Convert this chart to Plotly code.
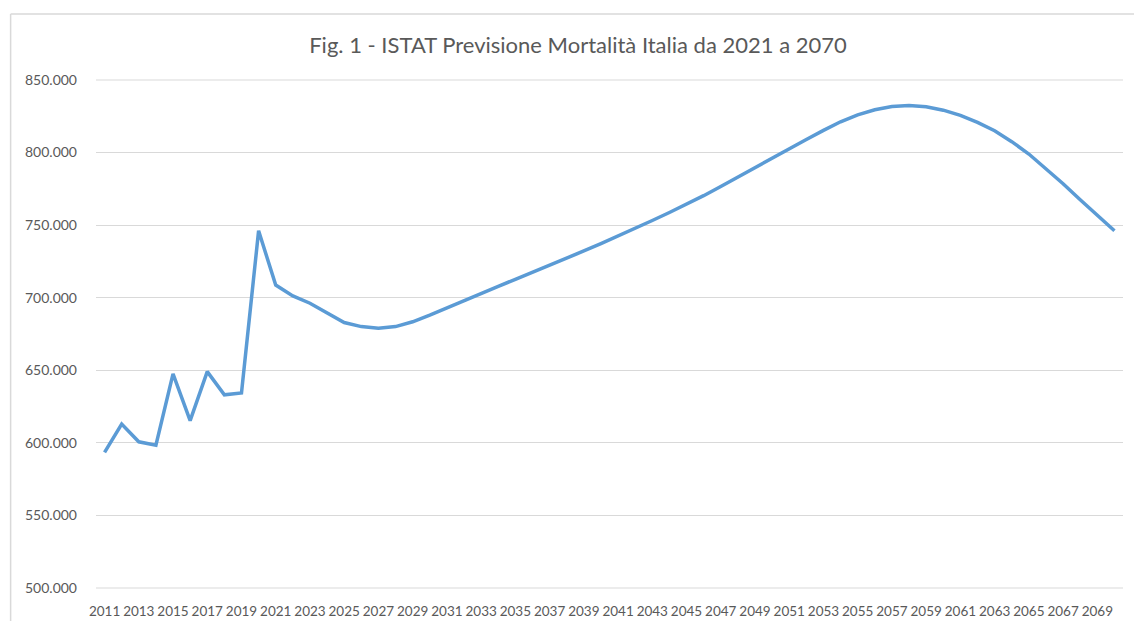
import plotly.graph_objects as go

years = list(range(2011, 2071))
deaths = [
    593400, 612900, 600700, 598400, 647500, 615300, 649100, 633100, 634400, 746100,  # 2011-2020
    708700, 701200, 696200, 689300, 682900, 680100, 679000, 680100, 683400, 688000,  # 2021-2030
    692800, 697800, 702800, 707800, 712700, 717500, 722200, 727100, 732200, 737300,  # 2031-2040
    742400, 747800, 753200, 758700, 764300, 770300, 776600, 783200, 789800, 796300,  # 2041-2050
    802700, 809000, 815300, 821200, 826000, 829500, 831700, 832400, 831600, 829200,  # 2051-2060
    825600, 820800, 815000, 807500, 799000, 789000, 778500, 767500, 757000, 746100,  # 2061-2070
]
x_ticks = list(range(2011, 2070, 2))
y_ticks = [500000, 550000, 600000, 650000, 700000, 750000, 800000, 850000]
title_text = "Fig. 1 - ISTAT Previsione Mortalità Italia da 2021 a 2070"

W, H = 1134, 621
L, R, T, B = 96.4, 10.5, 80, 33
pw, ph = W - L - R, H - T - B
FONT = "Lato, 'Open Sans', sans-serif"

fig = go.Figure()
fig.add_trace(go.Scatter(
    x=years, y=deaths, mode="lines",
    line=dict(color="#5B9BD5", width=3.5),
    hoverinfo="x+y", showlegend=False,
))

border_x = (11 - L) / pw
border_y = (H - B - 14) / ph

fig.update_layout(
    width=W, height=H,
    margin=dict(l=L, r=R, t=T, b=B, pad=0, autoexpand=False),
    paper_bgcolor="white", plot_bgcolor="white",
    separators=",.",
    font=dict(family=FONT, color="#595959", size=14),
    title=dict(text=title_text, x=578 / W, xanchor="center",
               y=1 - 45 / H, yanchor="middle",
               font=dict(size=22, color="#595959", family=FONT)),
    xaxis=dict(
        range=[2010.5, 2070.5], tickmode="array", tickvals=x_ticks,
        ticktext=[str(v) for v in x_ticks], showgrid=False, zeroline=False,
        showline=False, ticks="outside", ticklen=11, tickcolor="rgba(0,0,0,0)",
        tickangle=0, automargin=False,
        tickfont=dict(size=13.5, color="#595959"),
    ),
    yaxis=dict(
        range=[500000, 850000], tickmode="array", tickvals=y_ticks,
        tickformat=",d", showgrid=True, gridcolor="#d9d9d9", gridwidth=1,
        zeroline=False, showline=False, ticks="", automargin=False,
        ticklabelstandoff=18,
        tickfont=dict(size=14, color="#595959"),
    ),
    shapes=[
        dict(type="line", xref="paper", yref="paper",
             x0=border_x, x1=border_x, y0=border_y, y1=-0.2,
             line=dict(color="#d9d9d9", width=1.5)),
        dict(type="line", xref="paper", yref="paper",
             x0=border_x, x1=1.2, y0=border_y, y1=border_y,
             line=dict(color="#d9d9d9", width=1.5)),
        dict(type="line", xref="paper", yref="paper",
             x0=0, x1=1, y0=0, y1=0, layer="below",
             line=dict(color="#d9d9d9", width=1)),
        dict(type="line", xref="paper", yref="paper",
             x0=0, x1=1, y0=1, y1=1, layer="below",
             line=dict(color="#d9d9d9", width=1)),
    ],
)

fig.write_html(
    "out.html",
    config={"displayModeBar": False},
    post_script="document.body.style.margin='0';document.body.style.overflow='hidden';",
)
